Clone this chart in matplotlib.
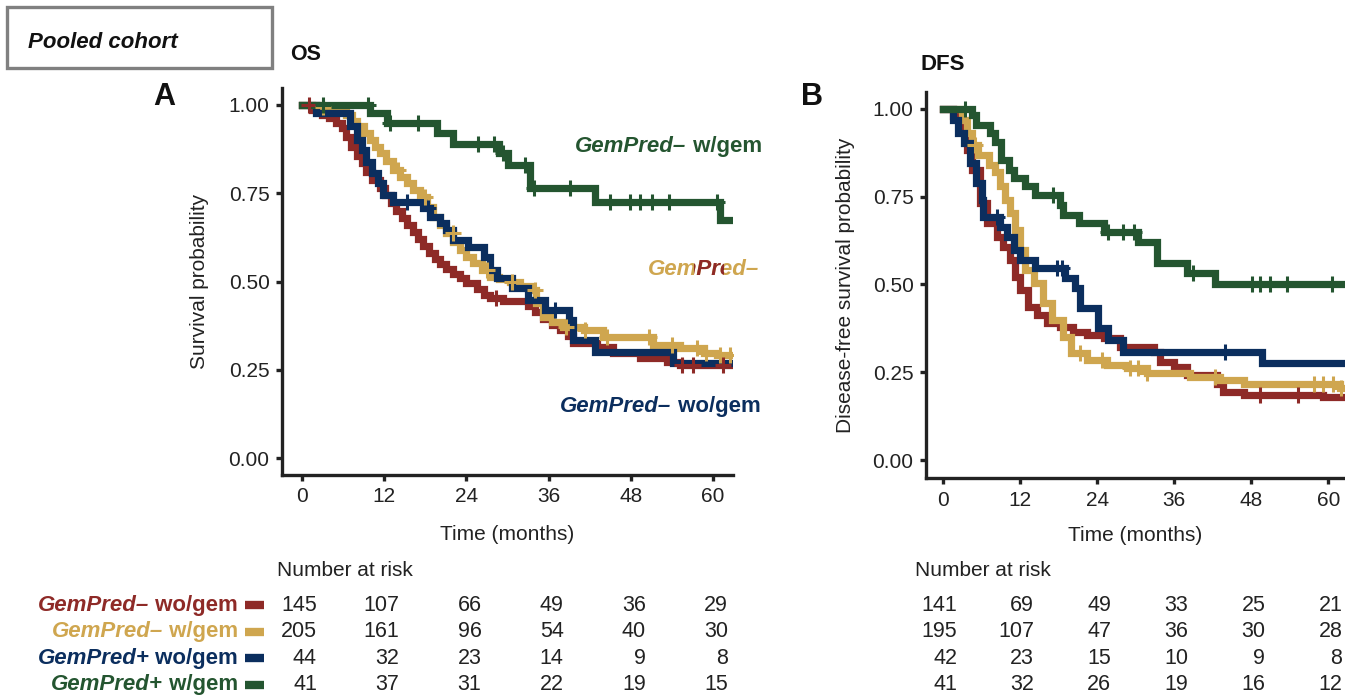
import numpy as np
import matplotlib
matplotlib.use('Agg')
import matplotlib.pyplot as plt
from matplotlib.patches import Rectangle
from matplotlib.transforms import Bbox, TransformedBbox

plt.rcParams['font.family'] = ['Liberation Sans', 'DejaVu Sans']

# ========== data ==========
groups = ['wo_neg', 'w_neg', 'wo_pos', 'w_pos']
colors = {'wo_neg': '#8E2A27', 'w_neg': '#CFA64F', 'wo_pos': '#0B2E5E', 'w_pos': '#245530'}
group_labels = [('GemPred\u2013', ' wo/gem'), ('GemPred\u2013', ' w/gem'),
                ('GemPred+', ' wo/gem'), ('GemPred+', ' w/gem')]
risk_times = [0, 12, 24, 36, 48, 60]

# OS (panel A)
os_t = {
    'wo_neg': [0, 1.5, 3.0, 4.0, 5.0, 5.8, 6.5, 7.2, 8.0, 8.7, 9.4, 10.3, 11.4, 12.2, 13.0, 13.8, 14.6, 15.3,
               16.2, 17.0, 17.7, 18.6, 19.4, 20.1, 21.0, 22.0, 23.1, 24.0, 25.5, 26.5, 27.5, 29.4, 33.0, 34.0,
               35.2, 36.5, 37.7, 38.8, 39.6, 43.0, 45.4, 49.3, 53.2, 55.2, 62.9],
    'w_neg': [0, 3.0, 5.5, 6.5, 7.3, 8.0, 9.0, 9.9, 10.7, 11.4, 12.3, 13.3, 14.3, 15.3, 16.2, 17.2, 18.2, 19.2,
              20.1, 21.1, 22.1, 23.1, 24.0, 25.0, 26.3, 27.4, 28.8, 30.4, 31.8, 33.3, 34.2, 35.2, 36.5, 38.1,
              41.1, 44.0, 51.3, 55.2, 58.6, 60.5, 62.9],
    'wo_pos': [0, 2.1, 7.0, 8.0, 8.7, 9.4, 10.2, 11.1, 11.9, 13.3, 17.6, 18.7, 20.1, 21.1, 22.1, 24.3, 26.5,
               27.4, 28.4, 30.6, 33.0, 35.5, 38.9, 39.6, 42.8, 54.2, 62.9],
    'w_pos': [0, 9.9, 12.4, 19.7, 22.1, 28.7, 30.1, 33.3, 42.8, 61.0, 62.9],
}
os_s = {
    'wo_neg': [1, 0.986, 0.972, 0.962, 0.950, 0.935, 0.910, 0.882, 0.855, 0.835, 0.810, 0.788, 0.765, 0.745,
               0.722, 0.700, 0.680, 0.660, 0.640, 0.620, 0.600, 0.582, 0.565, 0.550, 0.535, 0.522, 0.510, 0.495,
               0.478, 0.462, 0.452, 0.446, 0.430, 0.415, 0.395, 0.377, 0.363, 0.345, 0.325, 0.315, 0.297, 0.282,
               0.273, 0.263, 0.263],
    'w_neg': [1, 0.993, 0.986, 0.972, 0.955, 0.939, 0.920, 0.900, 0.882, 0.863, 0.840, 0.816, 0.797, 0.778,
              0.760, 0.740, 0.712, 0.684, 0.660, 0.637, 0.613, 0.589, 0.570, 0.552, 0.533, 0.514, 0.507, 0.500,
              0.488, 0.476, 0.440, 0.400, 0.385, 0.372, 0.363, 0.344, 0.320, 0.311, 0.297, 0.292, 0.292],
    'wo_pos': [1, 0.977, 0.939, 0.901, 0.873, 0.839, 0.807, 0.778, 0.745, 0.726, 0.707, 0.684, 0.665, 0.646,
               0.618, 0.599, 0.570, 0.533, 0.509, 0.481, 0.448, 0.419, 0.391, 0.334, 0.301, 0.268, 0.268],
    'w_pos': [1, 0.976, 0.948, 0.920, 0.890, 0.863, 0.830, 0.764, 0.726, 0.674, 0.674],
}
os_cens = {
    'wo_neg': [1.0, 28.3, 55.4, 57.1, 61.5],
    'w_neg': [3.1, 14.0, 18.0, 22.0, 27.0, 30.6, 34.0, 38.5, 41.3, 44.5, 50.6, 54.0, 57.6, 59.0, 61.0, 62.4],
    'wo_pos': [15.3, 18.4, 37.0],
    'w_pos': [3.1, 9.6, 12.9, 17.0, 25.7, 28.1, 29.3, 32.6, 33.8, 39.1, 45.0, 47.9, 49.4, 51.1, 53.5, 60.5],
}
os_risk = {
    'wo_neg': [145, 107, 66, 49, 36, 29],
    'w_neg': [205, 161, 96, 54, 40, 30],
    'wo_pos': [44, 32, 23, 14, 9, 8],
    'w_pos': [41, 37, 31, 22, 19, 15],
}

# DFS (panel B)
dfs_t = {
    'wo_neg': [0, 1.5, 2.5, 3.2, 3.7, 4.5, 5.8, 6.8, 8.4, 9.4, 10.4, 11.2, 12.0, 13.3, 14.6, 16.2, 18.2, 20.3,
               22.4, 25.0, 27.6, 32.8, 33.8, 35.9, 38.0, 42.6, 43.6, 46.8, 59.2, 62.6],
    'w_neg': [0, 2.9, 3.7, 4.5, 5.5, 7.1, 8.1, 8.9, 9.7, 10.4, 11.2, 12.0, 12.8, 14.1, 15.6, 16.9, 18.7, 20.0,
              22.4, 25.5, 28.6, 31.7, 38.5, 43.1, 46.8, 61.8, 62.6],
    'wo_pos': [0, 1.6, 2.4, 3.2, 4.2, 5.2, 6.0, 6.3, 8.9, 9.9, 11.0, 12.0, 14.3, 19.0, 20.6, 21.3, 24.2, 25.7,
               28.1, 49.6, 62.6],
    'w_pos': [0, 4.5, 5.2, 7.3, 8.1, 9.1, 10.2, 11.0, 12.8, 14.3, 18.2, 18.7, 21.1, 25.0, 30.4, 33.3, 38.0,
              42.4, 62.6],
}
dfs_s = {
    'wo_neg': [1, 0.980, 0.955, 0.930, 0.883, 0.826, 0.731, 0.674, 0.636, 0.608, 0.570, 0.522, 0.484, 0.437,
               0.413, 0.389, 0.380, 0.366, 0.356, 0.347, 0.323, 0.309, 0.280, 0.266, 0.242, 0.218, 0.195, 0.185,
               0.180, 0.180],
    'w_neg': [1, 0.969, 0.931, 0.897, 0.869, 0.840, 0.821, 0.779, 0.741, 0.703, 0.655, 0.598, 0.541, 0.503,
              0.446, 0.399, 0.351, 0.304, 0.285, 0.271, 0.261, 0.247, 0.237, 0.228, 0.218, 0.205, 0.205],
    'wo_pos': [1, 0.969, 0.931, 0.902, 0.845, 0.788, 0.741, 0.693, 0.665, 0.636, 0.598, 0.570, 0.546, 0.518,
               0.489, 0.432, 0.375, 0.342, 0.309, 0.275, 0.275],
    'w_pos': [1, 0.983, 0.954, 0.930, 0.907, 0.855, 0.826, 0.802, 0.779, 0.755, 0.726, 0.698, 0.674, 0.650,
              0.622, 0.560, 0.532, 0.500, 0.500],
}
dfs_cens = {
    'wo_neg': [49.4, 55.3],
    'w_neg': [5.0, 21.3, 24.8, 29.1, 30.4, 31.7, 42.4, 57.7, 59.2, 60.7, 62.0],
    'wo_pos': [8.4, 17.7, 18.5, 43.9],
    'w_pos': [3.4, 17.2, 25.7, 28.1, 29.7, 39.0, 48.1, 49.4, 50.9, 53.5, 60.5],
}
dfs_risk = {
    'wo_neg': [141, 69, 49, 33, 25, 21],
    'w_neg': [195, 107, 47, 36, 30, 28],
    'wo_pos': [42, 23, 15, 10, 9, 8],
    'w_pos': [41, 32, 26, 19, 16, 12],
}

W, H = 1345, 698
FS = 15
LFS = 16  # group label size
fig = plt.figure(figsize=(W / 100, H / 100), dpi=100)


def label_text(ax, x, y, head, tail, color, ha='left'):
    """bold italic marker name followed by bold upright suffix"""
    if ha == 'left':
        first = ax.text(x, y, head, color=color, fontsize=LFS, fontweight='bold', style='italic',
                        ha='left', va='center')
        ax.annotate(tail, xy=(1, 0.5), xycoords=first, color=color, fontsize=LFS, fontweight='bold',
                    ha='left', va='center')
    else:
        last = ax.text(x, y, tail, color=color, fontsize=LFS, fontweight='bold', ha='right', va='center')
        ax.annotate(head, xy=(0, 0.5), xycoords=last, color=color, fontsize=LFS, fontweight='bold',
                    style='italic', ha='right', va='center')


def km_panel(ax, t_d, s_d, c_d, xlim, ylim, ylabel, label_y):
    for g in groups:
        t = np.array(t_d[g])
        s = np.array(s_d[g])
        ax.step(t, s, where='post', color=colors[g], lw=5.2, solid_joinstyle='miter', zorder=2)
        ct = np.array(c_d[g])
        idx = np.searchsorted(t, ct, side='right') - 1
        ax.plot(ct, s[idx], ls='none', marker='+', ms=11, mew=2.2, color=colors[g], zorder=3)
    ax.set_xlim(*xlim)
    ax.set_ylim(*ylim)
    ax.set_xticks(risk_times)
    ax.set_yticks([0, 0.25, 0.5, 0.75, 1.0])
    ax.set_yticklabels(['0.00', '0.25', '0.50', '0.75', '1.00'])
    for sp in ['top', 'right']:
        ax.spines[sp].set_visible(False)
    for sp in ['left', 'bottom']:
        ax.spines[sp].set_linewidth(2.4)
        ax.spines[sp].set_color('#222222')
    ax.tick_params(axis='both', length=4, width=2.4, color='#222222', labelsize=FS, pad=5,
                   labelcolor='#222222')
    ax.set_xlabel('Time (months)', fontsize=FS, color='#222222')
    ax.set_ylabel(ylabel, fontsize=FS, color='#222222')
    ax.xaxis.set_label_coords(0.5, label_y)
    ax.xaxis.label.set_va('center')


def risk_table(ax, risk, xlim, head_x, with_labels):
    ax.set_xlim(*xlim)
    ax.set_ylim(3.5, -2)
    ax.axis('off')
    ax.text(head_x, -1.3, 'Number at risk', fontsize=FS, ha='left', va='center', color='#222222')
    for i, g in enumerate(groups):
        for t, n in zip(risk_times, risk[g]):
            ax.text(t + 2.2, i, str(n), fontsize=FS + 0.5, ha='right', va='center', color='#222222')
        if with_labels:
            ax.plot([-8.3, -5.5], [i, i], color=colors[g], lw=6, solid_capstyle='butt', clip_on=False)
            label_text(ax, -9.3, i, group_labels[i][0], group_labels[i][1], colors[g], ha='right')


# ---- panel A (OS) ----
xlimA = (-2.9, 62.9)
axA = fig.add_axes([282 / W, 223 / H, 451 / W, 387 / H])
km_panel(axA, os_t, os_s, os_cens, xlimA, (-0.048, 1.048), 'Survival probability', -0.155)
axA.yaxis.set_label_coords(-0.182, 0.5)
axA.yaxis.label.set_va('center')

label_text(axA, 39.9, 0.881, 'GemPred\u2013', ' w/gem', colors['w_pos'])
label_text(axA, 37.7, 0.145, 'GemPred\u2013', ' wo/gem', colors['wo_pos'])
# overlapping gold / red label: gold text with its middle letters red
mid = axA.text(50.5, 0.533, 'GemPred\u2013', color=colors['w_neg'], fontsize=LFS, fontweight='bold',
               style='italic', ha='left', va='center')
red = axA.text(50.5, 0.533, 'GemPred\u2013', color=colors['wo_neg'], fontsize=LFS, fontweight='bold',
               style='italic', ha='left', va='center')
red.set_clip_box(TransformedBbox(Bbox([[57.2, 0.4], [61.6, 0.7]]), axA.transData))
red.set_clip_on(True)

# ---- panel B (DFS) ----
xlimB = (-2.65, 62.6)
axB = fig.add_axes([926 / W, 220 / H, 419 / W, 386 / H])
km_panel(axB, dfs_t, dfs_s, dfs_cens, xlimB, (-0.051, 1.048), 'Disease-free survival probability', -0.148)
axB.yaxis.set_label_coords(-0.193, 0.5)
axB.yaxis.label.set_va('center')

# ---- risk tables ----
tabA = fig.add_axes([282 / W, 0, 451 / W, 0.209])
risk_table(tabA, os_risk, xlimA, -3.7, True)
tabB = fig.add_axes([926 / W, 0, 419 / W, 0.209])
risk_table(tabB, dfs_risk, xlimB, -4.4, False)

# ---- titles and panel letters ----
fig.text(290 / W, 1 - 55 / H, 'OS', fontsize=15.5, fontweight='bold', ha='left', va='center', color='#111111')
fig.text(920 / W, 1 - 65 / H, 'DFS', fontsize=16, fontweight='bold', ha='left', va='center', color='#111111')
fig.text(164 / W, 1 - 97 / H, 'A', fontsize=22, fontweight='bold', ha='center', va='center', color='#111111')
fig.text(812 / W, 1 - 97 / H, 'B', fontsize=22, fontweight='bold', ha='center', va='center', color='#111111')

fig.patches.append(Rectangle((7 / W, 1 - 68 / H), 265 / W, 61 / H, transform=fig.transFigure,
                             fill=False, edgecolor='#808080', lw=2.4))
fig.text(28 / W, 1 - 42 / H, 'Pooled cohort', fontsize=16, fontweight='bold', style='italic',
         ha='left', va='center', color='#111111')

fig.savefig('out.png', dpi=100)
